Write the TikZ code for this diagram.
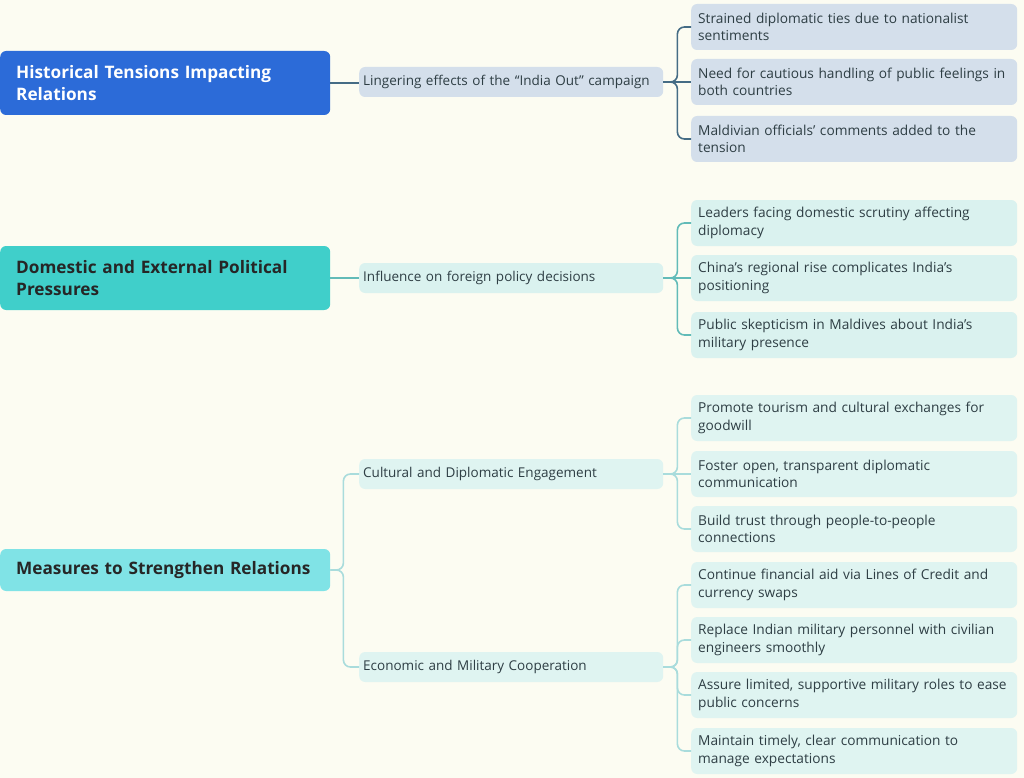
\documentclass[tikz,border=0pt]{standalone}
\usepackage{fontspec}
\setmainfont{Open Sans}
\definecolor{bgc}{HTML}{FCFCF2}
\definecolor{rootA}{HTML}{2C6BD8}
\definecolor{rootB}{HTML}{40CFCA}
\definecolor{rootC}{HTML}{80E3E6}
\definecolor{boxA}{HTML}{D4DFEB}
\definecolor{boxB}{HTML}{DAF2EF}
\definecolor{boxC}{HTML}{DFF4F1}
\definecolor{lineA}{HTML}{456C85}
\definecolor{lineB}{HTML}{62BBB8}
\definecolor{lineC}{HTML}{A9DCDC}
\definecolor{txt}{HTML}{2E3E44}
\tikzset{
  root/.style={anchor=west,rounded corners=6pt,text width=298pt,inner xsep=16pt,
    align=left,font=\fontsize{17.2}{22}\selectfont\bfseries},
  branch/.style={anchor=west,rounded corners=6pt,text width=296pt,inner xsep=4pt,
    minimum height=30pt,align=left,text=txt,font=\fontsize{13.5}{17}\selectfont},
  leaf/.style={anchor=west,rounded corners=6pt,text width=312pt,inner xsep=7pt,
    minimum height=46pt,align=left,text=txt,font=\fontsize{13.7}{17.5}\selectfont},
  link/.style={line width=1.6pt,rounded corners=7pt}
}
\begin{document}
\begin{tikzpicture}[x=1pt,y=-1pt]
  \useasboundingbox[fill=bgc] (0,0) rectangle (1024,778);
  \node[root,fill=rootA,text=white,minimum height=64pt] (r1) at (0,83)
    {Historical Tensions Impacting\\Relations};
  \node[root,fill=rootB,text=black!85,minimum height=64pt] (r2) at (0,278)
    {Domestic and External Political\\Pressures};
  \node[root,fill=rootC,text=black!85,minimum height=42pt] (r3) at (0,570)
    {Measures to Strengthen Relations};
  \node[branch,fill=boxA] (b1) at (359,82) {Lingering effects of the “India Out” campaign};
  \node[branch,fill=boxB] (b2) at (359,278) {Influence on foreign policy decisions};
  \node[branch,fill=boxC] (b3) at (359,474) {Cultural and Diplomatic Engagement};
  \node[branch,fill=boxC] (b4) at (359,667) {Economic and Military Cooperation};
  \node[leaf,fill=boxA] (l11) at (691,27) {Strained diplomatic ties due to nationalist\\sentiments};
  \node[leaf,fill=boxA] (l12) at (691,82) {Need for cautious handling of public feelings in\\both countries};
  \node[leaf,fill=boxA] (l13) at (691,139) {Maldivian officials’ comments added to the\\tension};
  \node[leaf,fill=boxB] (l21) at (691,223) {Leaders facing domestic scrutiny affecting\\diplomacy};
  \node[leaf,fill=boxB] (l22) at (691,278) {China’s regional rise complicates India’s\\positioning};
  \node[leaf,fill=boxB] (l23) at (691,335) {Public skepticism in Maldives about India’s\\military presence};
  \node[leaf,fill=boxC] (l31) at (691,418) {Promote tourism and cultural exchanges for\\goodwill};
  \node[leaf,fill=boxC] (l32) at (691,474) {Foster open, transparent diplomatic\\communication};
  \node[leaf,fill=boxC] (l33) at (691,529) {Build trust through people-to-people\\connections};
  \node[leaf,fill=boxC] (l41) at (691,585) {Continue financial aid via Lines of Credit and\\currency swaps};
  \node[leaf,fill=boxC] (l42) at (691,640) {Replace Indian military personnel with civilian\\engineers smoothly};
  \node[leaf,fill=boxC] (l43) at (691,695) {Assure limited, supportive military roles to ease\\public concerns};
  \node[leaf,fill=boxC] (l44) at (691,751) {Maintain timely, clear communication to\\manage expectations};
  \draw[link,lineA] (r1.east) -- (r1.east -| b1.west);
  \draw[link,lineB] (r2.east) -- (b2.west);
  \foreach \b in {b3,b4}
    \draw[link,lineC] (r3.east) -- ++(13,0) |- (\b.west);
  \foreach \l in {l11,l13}
    \draw[link,lineA] (b1.east) -- ++(14,0) |- (\l.west);
  \draw[link,lineA] (b1.east) -- (l12.west);
  \foreach \l in {l21,l23}
    \draw[link,lineB] (b2.east) -- ++(14,0) |- (\l.west);
  \draw[link,lineB] (b2.east) -- (l22.west);
  \foreach \l in {l31,l33}
    \draw[link,lineC] (b3.east) -- ++(14,0) |- (\l.west);
  \draw[link,lineC] (b3.east) -- (l32.west);
  \foreach \l in {l41,l42,l43,l44}
    \draw[link,lineC] (b4.east) -- ++(14,0) |- (\l.west);
\end{tikzpicture}
\end{document}
